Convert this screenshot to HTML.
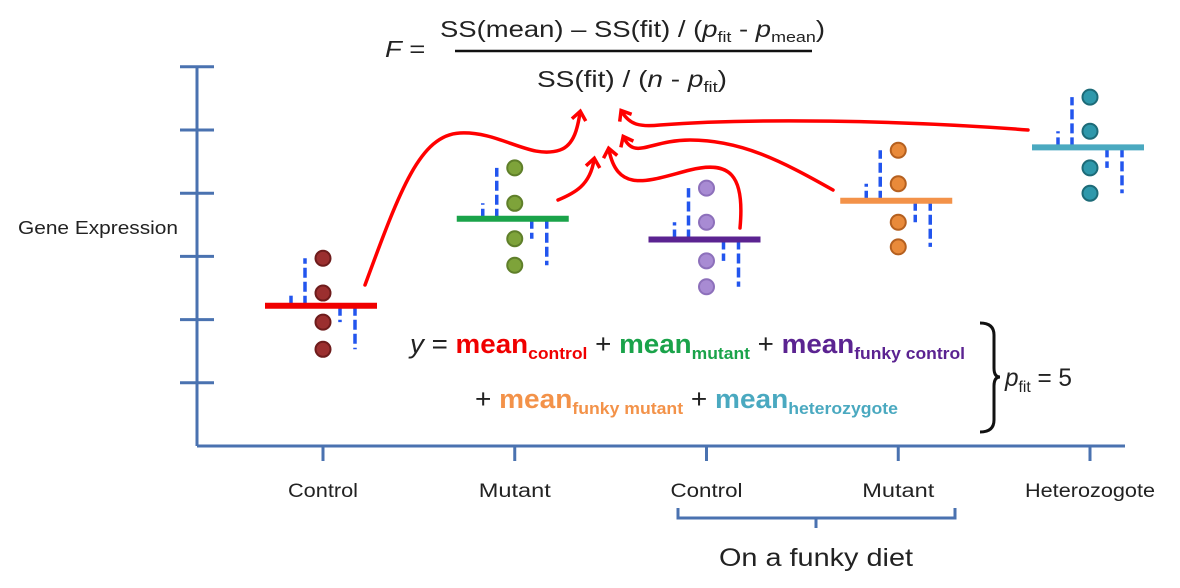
<!DOCTYPE html>
<html><head><meta charset="utf-8"><style>
body{margin:0;background:#fff;}
svg{display:block;font-family:"Liberation Sans","DejaVu Sans",sans-serif;}
</style></head><body>
<svg id="chart" width="1180" height="588" viewBox="0 0 1180 588" xmlns="http://www.w3.org/2000/svg">
<defs>
<marker id="ah" viewBox="0 0 10 10" refX="5" refY="5" markerWidth="5" markerHeight="5" orient="auto-start-reverse">
<path d="M1,1 L6,5 L1,9" fill="none" stroke="#f00" stroke-width="2"/>
</marker>
</defs>
<g font-size="23" fill="#222">
<text x="385" y="57" font-style="italic" textLength="40" lengthAdjust="spacingAndGlyphs">F =</text>
<text x="440" y="37" textLength="385" lengthAdjust="spacingAndGlyphs">SS(mean) – SS(fit) / (<tspan font-style="italic">p</tspan><tspan font-size="15" dy="5">fit</tspan><tspan dy="-5"> - </tspan><tspan font-style="italic">p</tspan><tspan font-size="15" dy="5">mean</tspan><tspan dy="-5">)</tspan></text>
<line x1="455" y1="51" x2="812" y2="51" stroke="#111" stroke-width="2.5"/>
<text x="537" y="87" textLength="190" lengthAdjust="spacingAndGlyphs">SS(fit) / (<tspan font-style="italic">n</tspan> - <tspan font-style="italic">p</tspan><tspan font-size="15" dy="5">fit</tspan><tspan dy="-5">)</tspan></text>
</g>
<text x="18" y="234" font-size="18" fill="#222" textLength="160" lengthAdjust="spacingAndGlyphs">Gene Expression</text>
<g id="axes"></g>
<g id="arrows" fill="none" stroke="#f00" stroke-width="3.5" stroke-linecap="round">
<path d="M365,285 C400,190 420,135 460,133 C500,131 530,160 560,150 C575,145 578,125 580,113" marker-end="url(#ah)"/>
<path d="M558,200 C575,193 590,185 594,160" marker-end="url(#ah)"/>
<path d="M740,228 C745,175 730,160 690,170 C650,180 618,195 609,150" marker-end="url(#ah)"/>
<path d="M833,190 C780,160 740,140 690,140 C650,140 635,160 624,138" marker-end="url(#ah)"/>
<path d="M1028,130 C900,120 750,118 660,125 C640,127 630,125 622,112" marker-end="url(#ah)"/>
</g>
<g id="groups"></g>
<g font-size="27" fill="#222">
<text x="410" y="353" textLength="555" lengthAdjust="spacingAndGlyphs"><tspan font-style="italic">y</tspan> = <tspan fill="#f00000" font-weight="bold">mean</tspan><tspan fill="#f00000" font-weight="bold" font-size="17" dy="6">control</tspan><tspan dy="-6"> + </tspan><tspan fill="#1aa34a" font-weight="bold">mean</tspan><tspan fill="#1aa34a" font-weight="bold" font-size="17" dy="6">mutant</tspan><tspan dy="-6"> + </tspan><tspan fill="#5b2391" font-weight="bold">mean</tspan><tspan fill="#5b2391" font-weight="bold" font-size="17" dy="6">funky control</tspan></text>
<text x="475" y="408" textLength="423" lengthAdjust="spacingAndGlyphs">+ <tspan fill="#f39249" font-weight="bold">mean</tspan><tspan fill="#f39249" font-weight="bold" font-size="17" dy="6">funky mutant</tspan><tspan dy="-6"> + </tspan><tspan fill="#4aa9c0" font-weight="bold">mean</tspan><tspan fill="#4aa9c0" font-weight="bold" font-size="17" dy="6">heterozygote</tspan></text>
<path d="M980,323 Q994,323 994,335 L994,368 Q994,377 1000,377 Q994,377 994,386 L994,420 Q994,432 980,432" fill="none" stroke="#111" stroke-width="3"/>
<text x="1005" y="386" font-size="25" textLength="67" lengthAdjust="spacingAndGlyphs"><tspan font-style="italic">p</tspan><tspan font-size="16" dy="6">fit</tspan><tspan dy="-6"> = 5</tspan></text>
</g>
<g>
<path d="M678,508 L678,518 L955,518 L955,508 M816,518 L816,528" fill="none" stroke="#4a72b0" stroke-width="3"/>
<text x="719" y="566" font-size="25" fill="#222" textLength="194" lengthAdjust="spacingAndGlyphs">On a funky diet</text>
</g>
<script>
const categories = ["Control","Mutant","Control","Mutant","Heterozogote"];
const groupKeys = ["control","mutant","funky-control","funky-mutant","heterozygote"];
const valsControl = [2.97, 2.42, 1.96, 1.53];
const valsMutant = [4.40, 3.84, 3.28, 2.86];
const valsFunkyControl = [4.08, 3.54, 2.93, 2.52];
const valsFunkyMutant = [4.68, 4.15, 3.54, 3.15];
const valsHet = [5.52, 4.98, 4.40, 4.00];
const yTicks = [1,2,3,4,5,6];
const series = [valsControl, valsMutant, valsFunkyControl, valsFunkyMutant, valsHet];
const meanColors = ["#f00000","#1aa34a","#5b2391","#f39249","#4aa9c0"];
const dotFill = ["#9b2f2f","#7ea33a","#a88bd3","#e98a3a","#2e98ab"];
const dotStroke = ["#6e1c1c","#5f7f2a","#8d70bb","#b5601f","#1d6b78"];
const NS="http://www.w3.org/2000/svg";
const y0=446, unit=63.2;
function yScale(v){return y0 - v*unit;}
function xScale(i){return 323 + i*191.75;}
function mk(tag, attrs, parent){const e=document.createElementNS(NS,tag);for(const k in attrs)e.setAttribute(k,attrs[k]);parent.appendChild(e);return e;}
const axes=document.getElementById('axes');
let l=mk('line',{x1:197,y1:yScale(6),x2:197,y2:y0,stroke:'#4a72b0','stroke-width':3},axes);


l=mk('line',{x1:197,y1:y0,x2:1125,y2:y0,stroke:'#4a72b0','stroke-width':3},axes);


yTicks.forEach(t=>{
  const tk=mk('line',{x1:180,x2:214,y1:yScale(t),y2:yScale(t),stroke:'#4a72b0','stroke-width':3},axes);
  
  
});
const labelW=[70,72,72,72,130];
categories.forEach((c,i)=>{
  const tk=mk('line',{x1:xScale(i),x2:xScale(i),y1:y0,y2:461,stroke:'#4a72b0','stroke-width':3},axes);
  
  
  const t=mk('text',{x:xScale(i)-labelW[i]/2,y:497,'font-size':19,fill:'#222',textLength:labelW[i],lengthAdjust:'spacingAndGlyphs'},axes);
  t.textContent=c;
  
  
});
const groups=document.getElementById('groups');
const offs=[-18,-32,17,32];
series.forEach((vals,i)=>{
  const g=mk('g',{},groups);
  
  
  const cx=xScale(i);
  const mean=vals.reduce((a,b)=>a+b,0)/vals.length;
  const my=yScale(mean);
  vals.forEach((v,j)=>{
    const r=mk('line',{x1:cx+offs[j],x2:cx+offs[j],y1:my,y2:yScale(v),stroke:'#2255ee','stroke-width':3.5,'stroke-dasharray':'10,4'},g);
    
    
  });
  const ml=mk('line',{x1:cx-58,x2:cx+54,y1:my,y2:my,stroke:meanColors[i],'stroke-width':6},g);
  
  
  vals.forEach(v=>{
    const d=mk('circle',{cx:cx,cy:yScale(v),r:7.5,fill:dotFill[i],stroke:dotStroke[i],'stroke-width':2},g);
    
    
  });
});
</script>
</svg>
</body></html>
